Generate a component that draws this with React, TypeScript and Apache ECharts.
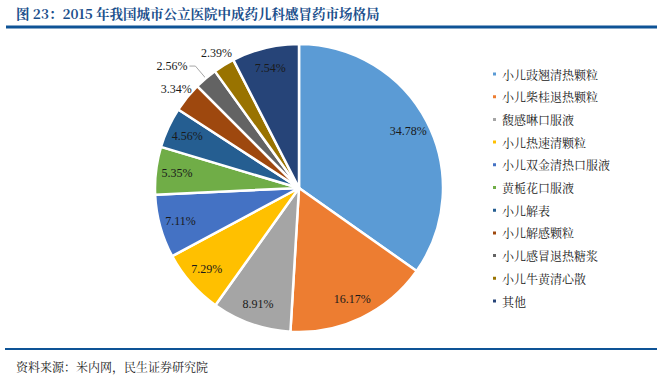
import React, { useEffect, useRef } from "react";
import * as echarts from "echarts";

const categories = [
  "小儿豉翘清热颗粒",
  "小儿柴桂退热颗粒",
  "馥感啉口服液",
  "小儿热速清颗粒",
  "小儿双金清热口服液",
  "黄栀花口服液",
  "小儿解表",
  "小儿解感颗粒",
  "小儿感冒退热糖浆",
  "小儿牛黄清心散",
  "其他",
];
const shares = [34.78, 16.17, 8.91, 7.29, 7.11, 5.35, 4.56, 3.34, 2.56, 2.39, 7.54];
const colors = [
  "#5B9BD5", "#ED7D31", "#A5A5A5", "#FFC000", "#4472C4", "#70AD47",
  "#255E91", "#9E480E", "#636363", "#997300", "#264478",
];
// label placement groups (by category name)
const outerRingLabels = ["小儿解感颗粒", "小儿牛黄清心散"];
const leaderLabels = ["小儿感冒退热糖浆"];

const titleText = "图 23：2015 年我国城市公立医院中成药儿科感冒药市场格局";
const sourceText = "资料来源：米内网，民生证券研究院";

const LABEL_FONT = "'Liberation Serif', 'Times New Roman', serif";
const CJK_FONT = "'Noto Serif CJK SC', 'Noto Sans CJK SC', serif";

export default function App() {
  const ref = useRef<HTMLDivElement>(null);
  useEffect(() => {
    if (!ref.current) return;
    const chart = echarts.init(ref.current, undefined, { renderer: "svg" });
    const center = [299, 188];
    const fmt = (p: any) => p.value.toFixed(2) + "%";
    const labelStyle = { fontFamily: LABEL_FONT, fontSize: 12, color: "#1a1a1a" };

    const mainData = categories.map((n, i) => {
      const lead = leaderLabels.includes(n);
      return {
        name: n,
        value: shares[i],
        itemStyle: { color: colors[i] },
        label: { show: lead },
        labelLine: { show: lead, length: 16, length2: 6 },
      };
    });
    const innerData = categories.map((n, i) => {
      const show = !outerRingLabels.includes(n) && !leaderLabels.includes(n);
      return { name: n + "#in", value: shares[i], label: { show } };
    });
    const outerData = categories.map((n, i) => ({
      name: n + "#out",
      value: shares[i],
      label: { show: outerRingLabels.includes(n) },
    }));

    chart.setOption({
      animation: false,
      color: colors,
      graphic: [
        {
          type: "text",
          left: 16,
          top: 6,
          style: {
            text: titleText,
            fontSize: 13.5,
            fontWeight: "bold",
            fill: "#1b4f8c",
            fontFamily: CJK_FONT,
          },
        },
        {
          type: "line",
          shape: { x1: 6, y1: 27, x2: 657, y2: 27 },
          style: { stroke: "#0e5396", lineWidth: 3 },
        },
        {
          type: "line",
          shape: { x1: 5, y1: 349, x2: 657, y2: 349 },
          style: { stroke: "#0e5396", lineWidth: 2 },
        },
        {
          type: "text",
          x: 16,
          y: 366,
          style: {
            text: sourceText,
            fontSize: 12,
            fill: "#222",
            fontFamily: CJK_FONT,
            verticalAlign: "middle",
          },
        },
      ],
      legend: {
        orient: "vertical",
        left: 486,
        top: 62,
        itemWidth: 5,
        itemHeight: 5,
        itemGap: 8.7,
        icon: "rect",
        data: categories,
        textStyle: {
          fontSize: 12,
          lineHeight: 14,
          color: "#222",
          fontFamily: CJK_FONT,
        },
      },
      series: [
        {
          type: "pie",
          center,
          radius: [0, 144],
          startAngle: 90,
          clockwise: true,
          avoidLabelOverlap: false,
          itemStyle: { borderColor: "#fff", borderWidth: 2.5 },
          label: {
            position: "outside",
            formatter: fmt,
            distanceToLabelLine: 2,
            ...labelStyle,
          },
          labelLine: { lineStyle: { color: "#a6a6a6", width: 1 } },
          data: mainData,
        },
        {
          type: "pie",
          center,
          radius: [96, 144],
          startAngle: 90,
          clockwise: true,
          silent: true,
          avoidLabelOverlap: false,
          itemStyle: { color: "transparent" },
          label: { position: "inside", formatter: fmt, ...labelStyle },
          labelLine: { show: false },
          data: innerData,
        },
        {
          type: "pie",
          center,
          radius: [146, 164],
          startAngle: 90,
          clockwise: true,
          silent: true,
          avoidLabelOverlap: false,
          itemStyle: { color: "transparent" },
          label: { position: "inside", formatter: fmt, ...labelStyle },
          labelLine: { show: false },
          data: outerData,
        },
      ],
    });
    return () => chart.dispose();
  }, []);
  return (
    <div
      ref={ref}
      style={{ position: "absolute", left: 0, top: 0, width: 667, height: 377 }}
    />
  );
}
